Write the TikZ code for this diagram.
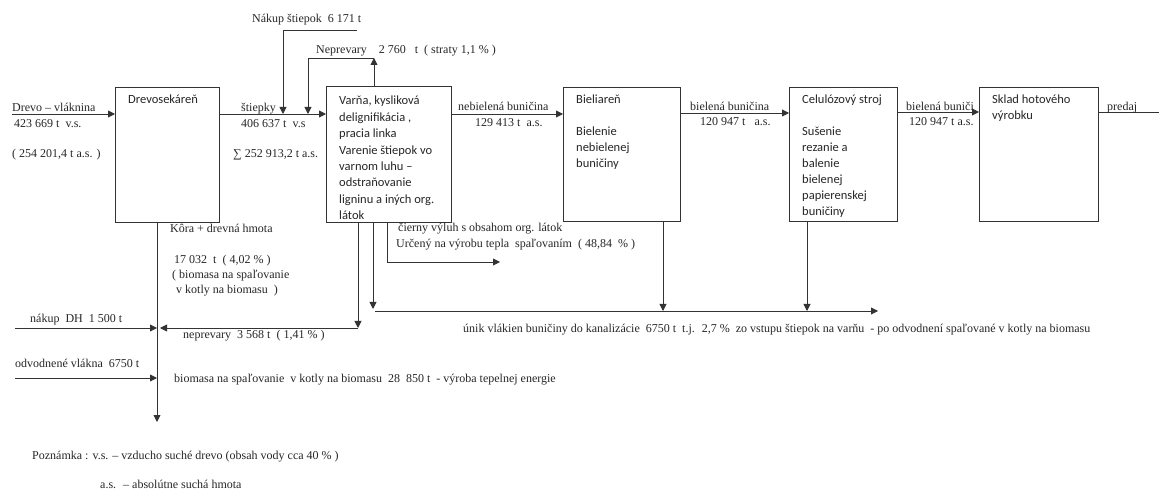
\documentclass[tikz,border=0pt]{standalone}
\usepackage{fontspec}
\setmainfont{Liberation Serif}
\newfontfamily\labelfont{Liberation Serif}
\newfontfamily\boxfont{Carlito}
\usetikzlibrary{arrows.meta}
\begin{document}
\begin{tikzpicture}[x=1pt,y=-1pt,
  stage/.style={draw=black!80, line width=1.1pt, inner sep=0, anchor=north west},
  flow/.style={draw=black!80, line width=0.9pt, -{Triangle[length=7pt,width=7pt]}},
  plain/.style={draw=black!80, line width=0.9pt},
  lbl/.style={font=\labelfont\fontsize{12}{14}\selectfont, text=black!85, inner sep=0, anchor=base west},
  boxtxt/.style={font=\boxfont\fontsize{12.5}{16.4}\selectfont, text=black!85, inner sep=0, anchor=north west, align=left},
]
\useasboundingbox (0,0) rectangle (1159,502);

% process stages
\node[stage, minimum width=104pt, minimum height=135pt] (b1) at (115,87) {};
\node[stage, minimum width=125pt, minimum height=136pt] (b2) at (326,86) {};
\node[stage, minimum width=117pt, minimum height=134pt] (b3) at (563,87) {};
\node[stage, minimum width=108pt, minimum height=134pt] (b4) at (789,87) {};
\node[stage, minimum width=119pt, minimum height=134pt] (b5) at (979,87) {};

% stage descriptions
\node[boxtxt] (t1) at (128,95) {Drevosekáreň};
\node[boxtxt] (t2) at (339,96) {Varňa, kysliková\\delignifikácia ,\\pracia linka\\Varenie štiepok vo\\varnom luhu –\\odstraňovanie\\ligninu a iných org.\\látok};
\node[boxtxt, font=\boxfont\fontsize{12.5}{16}\selectfont] (t3) at (576,95) {Bieliareň\\[16pt]Bielenie\\nebielenej\\buničiny};
\node[boxtxt, font=\boxfont\fontsize{12.5}{16}\selectfont] (t4) at (802,95) {Celulózový stroj\\[16pt]Sušenie\\rezanie a\\balenie\\bielenej\\papierenskej\\buničiny};
\node[boxtxt, font=\boxfont\fontsize{12.5}{16}\selectfont] (t5) at (992,95) {Sklad hotového\\výrobku};

% main material flow
\coordinate (src) at (12,114);
\coordinate (f1) at (0,114);
\coordinate (f3) at (0,113);
\coordinate (f4) at (0,112);
\coordinate (sale) at (1159,112);
\draw[flow] (src) -- (src -| b1.west);
\draw[flow] (b1.east |- f1) -- (b2.west |- f1);
\draw[flow] (b2.east |- f1) -- (b3.west |- f1);
\draw[flow] (b3.east |- f3) -- (b4.west |- f3);
\draw[flow] (b4.east |- f4) -- (b5.west |- f4);
\draw[plain] (b5.east |- sale) -- (sale);

% purchased chips and recycled knots
\coordinate (nakup) at (357,30);
\coordinate (jn) at (283,114);
\draw[flow] (nakup) -- (nakup -| jn) -- (jn);
\coordinate (npTop) at (374,58);
\coordinate (jr) at (308,114);
\draw[flow] (npTop |- b2.north) -- (npTop);
\draw[flow] (npTop) -- (npTop -| jr) -- (jr);

% biomass collector
\coordinate (sink) at (157,422);
\draw[flow] (sink |- b1.south) -- (sink);
\coordinate (dh) at (15,328);
\draw[flow] (dh) -- (dh -| sink);
\coordinate (np2) at (358,328);
\draw[flow] (np2 |- b2.south) -- (np2);
\draw[flow] (np2) -- ([xshift=3pt]np2 -| sink);
\coordinate (ov) at (15,378);
\draw[flow] (ov) -- (ov -| sink);

% black liquor
\coordinate (cvx) at (387,262);
\coordinate (cv) at (500,262);
\draw[flow] (cvx |- b2.south) -- (cvx) -- (cv);

% fibre losses to sewer
\coordinate (leak) at (373,311);
\coordinate (leakEnd) at (878,311);
\coordinate (dr3) at (663,311);
\coordinate (dr4) at (807,311);
\draw[flow] (leak |- b2.south) -- ([yshift=2pt]leak);
\draw[flow] ([xshift=2pt]leak) -- (leakEnd);
\draw[flow] (dr3 |- b3.south) -- (dr3);
\draw[flow] (dr4 |- b4.south) -- (dr4);

% flow labels
\node[lbl] (l1) at (12,112) {Drevo – vláknina};
\node[lbl] (l2) at (14,128) {423 669 t \ v.s.};
\node[lbl] (l3) at (12,158) {( 254 201,4 t a.s. )};
\node[lbl] (l4) at (241,112) {štiepky};
\node[lbl] (l5) at (241,128) {406 637 t \ v.s};
\node[lbl] (l6) at (233,158) {∑ 252 913,2 t a.s.};
\node[lbl] (l7) at (252,23) {Nákup štiepok \ 6 171 t};
\node[lbl] (l8) at (316,54) {Neprevary \ \ \ 2 760 \ \ t \ ( straty 1,1 \% )};
\node[lbl] (l9) at (458,111) {nebielená buničina};
\node[lbl] (l10) at (475,127) {129 413 t \ a.s.};
\node[lbl] (l11) at (690,111) {bielená buničina};
\node[lbl] (l12) at (700,126) {120 947 t \ \ a.s.};
\node[lbl] (l13) at (906,111) {bielená buniči};
\node[lbl] (l14) at (909,126) {120 947 t a.s.};
\node[lbl] (l15) at (1107,111) {predaj};
\node[lbl] (l16) at (170,233) {Kôra + drevná hmota};
\node[lbl] (l17) at (174,264) {17 032 \ t \ ( 4,02 \% )};
\node[lbl] (l18) at (172,279) {( biomasa na spaľovanie};
\node[lbl] (l19) at (176,294) {v kotly na biomasu \ )};
\node[lbl] (l20) at (30,323) {nákup \ DH \ 1 500 t};
\node[lbl] (l21) at (183,339) {neprevary \ 3 568 t \ ( 1,41 \% )};
\node[lbl] (l22) at (398,232) {čierny výluh s obsahom org. látok};
\node[lbl] (l23) at (396,248) {Určený na výrobu tepla \ spaľovaním \ ( 48,84 \ \% )};
\node[lbl] (l24) at (463,333) {únik vlákien buničiny do kanalizácie \ 6750 t \ t.j. \ 2,7 \% \ zo vstupu štiepok na varňu \ - po odvodnení spaľované v kotly na biomasu};
\node[lbl] (l25) at (15,368) {odvodnené vlákna \ 6750 t};
\node[lbl] (l26) at (174,383) {biomasa na spaľovanie \ v kotly na biomasu \ 28 \ 850 t \ - výroba tepelnej energie};
\node[lbl] (l27) at (32,459) {Poznámka : v.s. – vzducho suché drevo (obsah vody cca 40 \% )};
\node[lbl] (l28) at (100,488) {a.s. \ – absolútne suchá hmota};
\end{tikzpicture}
\end{document}
